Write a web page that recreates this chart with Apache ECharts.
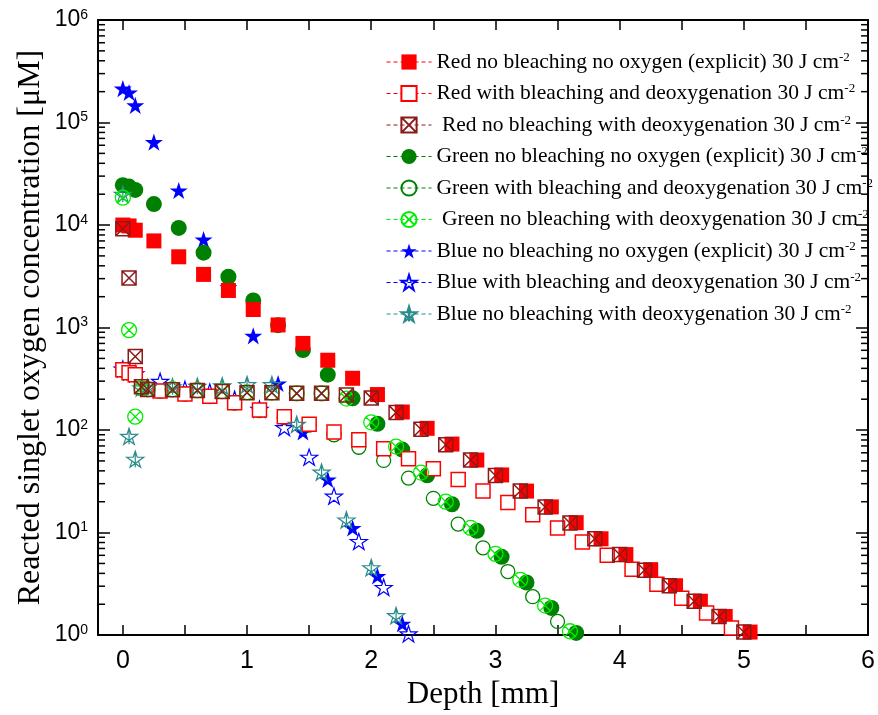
<!DOCTYPE html>
<html><head><meta charset="utf-8">
<script src="https://cdn.jsdelivr.net/npm/echarts@6/dist/echarts.min.js"></script>
<style>html,body{margin:0;padding:0;background:#fff}#c{width:878px;height:715px}</style>
</head><body><div id="c"></div>
<script>
// ---- data (depth in mm, concentration in µM) ----
const seriesNames = [
  'Red no bleaching no oxygen (explicit) 30 J cm',
  'Red with bleaching and deoxygenation 30 J cm',
  'Red no bleaching with deoxygenation 30 J cm',
  'Green no bleaching no oxygen (explicit) 30 J cm',
  'Green with bleaching and deoxygenation 30 J cm',
  'Green no bleaching with deoxygenation 30 J cm',
  'Blue no bleaching no oxygen (explicit) 30 J cm',
  'Blue with bleaching and deoxygenation 30 J cm',
  'Blue no bleaching with deoxygenation 30 J cm'
];
const redFilledX = [0,0.05,0.1,0.25,0.45,0.65,0.85,1.05,1.25,1.45,1.65,1.85,2.05,2.25,2.45,2.65,2.85,3.05,3.25,3.45,3.65,3.85,4.05,4.25,4.45,4.65,4.85,5.05];
const redFilledY = [10000,9800,8900,7000,4900,3300,2300,1500,1060,700,480,320,222,150,104,73,51,36.5,25.4,17.8,12.5,8.7,6.1,4.35,3.03,2.14,1.52,1.07];
const redOpenX = [0,0.05,0.1,0.3,0.5,0.7,0.9,1.1,1.3,1.5,1.7,1.9,2.1,2.3,2.5,2.7,2.9,3.1,3.3,3.5,3.7,3.9,4.1,4.3,4.5,4.7,4.9];
const redOpenY = [388,362,347,240,225,214,185,157,135,114,96,80.5,65.6,52.5,42,32.9,25.5,19.6,14.9,11.1,8.1,6.0,4.38,3.14,2.29,1.64,1.17];
const redCrossX = [0,0.05,0.1,0.15,0.2,0.4,0.6,0.8,1.0,1.2,1.4,1.6,1.8,2.0,2.2,2.4,2.6,2.8,3.0,3.2,3.4,3.6,3.8,4.0,4.2,4.4,4.6,4.8,5.0];
const redCrossY = [9200,3040,521,265,249,247,243,238,231,231,228,228,220,206,148,102,72,51,36,25.4,17.8,12.4,8.7,6.1,4.3,3.03,2.14,1.52,1.07];
const greenFilledX = [0,0.05,0.1,0.25,0.45,0.65,0.85,1.05,1.25,1.45,1.65,1.85,2.05,2.25,2.45,2.65,2.85,3.05,3.25,3.45,3.65];
const greenFilledY = [24500,23700,22000,16000,9380,5380,3130,1840,1055,603,347,204,115,64.5,36.2,18.9,10.4,5.8,3.26,1.84,1.05];
const greenOpenX = [0,0.05,0.1,0.3,0.5,0.7,0.9,1.1,1.3,1.5,1.7,1.9,2.1,2.3,2.5,2.7,2.9,3.1,3.3,3.5];
const greenOpenY = [385,360,345,238,224,212,183,155,132,112,90,68,50.6,34,21.6,12.1,7.1,4.17,2.37,1.36];
const greenCrossX = [0,0.05,0.1,0.15,0.2,0.4,0.6,0.8,1.0,1.2,1.4,1.6,1.8,2.0,2.2,2.4,2.6,2.8,3.0,3.2,3.4,3.6];
const greenCrossY = [18500,944,135,255,250,250,245,240,235,232,228,228,203,119,69,38.5,20,11.1,6.2,3.46,1.94,1.09];
const blueFilledX = [0,0.05,0.1,0.25,0.45,0.65,0.85,1.05,1.25,1.45,1.65,1.85,2.05,2.25];
const blueFilledY = [214000,196000,147000,64400,21700,7230,2470,830,285,96,32.9,11.1,3.78,1.29];
const blueOpenX = [0,0.05,0.1,0.3,0.5,0.7,0.9,1.1,1.3,1.5,1.7,1.9,2.1,2.3];
const blueOpenY = [395,370,355,299,250,235,200,160,106,54.4,22.7,8.2,2.92,1.03];
const tealX = [0,0.05,0.1,0.15,0.2,0.4,0.6,0.8,1.0,1.2,1.4,1.6,1.8,2.0,2.2];
const tealY = [20000,87,52,258,262,265,268,270,278,278,114,39,13.3,4.55,1.55];

const xTickLabels = [0,1,2,3,4,5,6];
const xTickValues = [0,0.5,1,1.5,2,2.5,3,3.5,4,4.5,5,5.5,6];
const X_MIN = -0.2, X_MAX = 6, Y_MIN = 1, Y_MAX = 1e6;

// minor log ticks (2..9 × 10^k)
const yMinorTicks = [];
for (let k = 0; k < 6; k++) for (let m = 2; m <= 9; m++) yMinorTicks.push(m * Math.pow(10, k));

// ---- symbols ----
const STAR = 'M10,0L12.25,6.91L19.51,6.91L13.63,11.18L15.88,18.09L10,13.82L4.12,18.09L6.37,11.18L0.49,6.91L7.75,6.91Z';
const SYM = {
  star: 'path://' + STAR,
  asterStar: 'path://' + STAR + 'M10,0L10,18.09M0.49,6.91L15.88,18.09M19.51,6.91L4.12,18.09',
  xSquare: 'path://M0,0L10,0L10,10L0,10ZM0,0L10,10M10,0L0,10',
  xCircle: 'path://M0,5A5,5,0,1,1,10,5A5,5,0,1,1,0,5ZM1.46,1.46L8.54,8.54M8.54,1.46L1.46,8.54'
};
const C = { red:'#FF0000', dred:'#8B1A1A', green:'#008000', lime:'#00EE00', blue:'#0000FF', teal:'#2A8C8C' };

function mk(i, xs, ys, symbol, size, itemStyle, color, z) {
  return {
    type: 'line', name: seriesNames[i],
    data: xs.map((x, j) => [x, ys[j]]),
    symbol: symbol, symbolSize: size, symbolKeepAspect: true,
    showSymbol: true, showAllSymbol: true,
    lineStyle: { width: 0, color: color },
    itemStyle: itemStyle, z: z, emphasis: { disabled: true }, silent: true
  };
}
const none = 'rgba(0,0,0,0)';
const series = [
  mk(0, redFilledX, redFilledY, 'rect', 15, { color: C.red }, C.red, 6),
  mk(1, redOpenX, redOpenY, 'rect', 14, { color: '#fff', borderColor: C.red, borderWidth: 1.5 }, C.red, 7),
  mk(2, redCrossX, redCrossY, SYM.xSquare, 14, { color: none, borderColor: C.dred, borderWidth: 1.5 }, C.dred, 9),
  mk(3, greenFilledX, greenFilledY, 'circle', 16, { color: C.green }, C.green, 4),
  mk(4, greenOpenX, greenOpenY, 'circle', 14, { color: none, borderColor: C.green, borderWidth: 1.3 }, C.green, 5),
  mk(5, greenCrossX, greenCrossY, SYM.xCircle, 15, { color: none, borderColor: C.lime, borderWidth: 1.3 }, C.lime, 8),
  mk(6, blueFilledX, blueFilledY, SYM.star, 18, { color: C.blue }, C.blue, 3),
  mk(7, blueOpenX, blueOpenY, SYM.star, 17, { color: none, borderColor: C.blue, borderWidth: 1.2 }, C.blue, 5),
  mk(8, tealX, tealY, SYM.asterStar, 17, { color: none, borderColor: C.teal, borderWidth: 1.2 }, C.teal, 7)
];
// minor ticks on the log axes (left and right), placed through the axis scale
series.push({
  type: 'custom', silent: true, clip: false, z: 20,
  data: yMinorTicks.map(v => [X_MIN, v]),
  renderItem: function (params, api) {
    const v = api.value(1);
    const pl = api.coord([X_MIN, v]);
    const pr = api.coord([X_MAX, v]);
    return { type: 'group', children: [
      { type: 'line', shape: { x1: pl[0], y1: pl[1], x2: pl[0] + 7, y2: pl[1] }, style: { stroke: '#000', lineWidth: 1.5 } },
      { type: 'line', shape: { x1: pr[0], y1: pr[1], x2: pr[0] - 7, y2: pr[1] }, style: { stroke: '#000', lineWidth: 1.5 } }
    ]};
  }
});

const chart = echarts.init(document.getElementById('c'), null, { renderer: 'canvas' });
const axisLine = { show: true, onZero: false, lineStyle: { color: '#000', width: 2 } };
const supFmt = v => '{b|10}{s|' + Math.round(Math.log10(v)) + '}';
chart.setOption({
  animation: false,
  backgroundColor: '#fff',
  grid: { left: 98, right: 8, top: 20, bottom: 73.5, containLabel: false },
  legend: {
    data: seriesNames, left: 386, top: 51, orient: 'vertical', padding: 0,
    itemWidth: 45, itemHeight: 19, itemGap: 9.5, selectedMode: false,
    lineStyle: { width: 1, type: [4, 3] },
    formatter: function (name) {
      const pad = (name.indexOf('no bleaching with') >= 0 && name.indexOf('Blue') < 0) ? ' ' : '';
      return '{t|' + pad + name + '}{s|-2}';
    },
    textStyle: { rich: {
      t: { fontFamily: 'Liberation Serif', fontSize: 21.5, lineHeight: 22, color: '#000' },
      s: { fontFamily: 'Liberation Serif', fontSize: 13, verticalAlign: 'top', lineHeight: 12, color: '#000' }
    } }
  },
  xAxis: [{
    type: 'value', min: X_MIN, max: X_MAX, position: 'bottom',
    axisLine: axisLine, splitLine: { show: false },
    axisTick: { inside: true, length: 10, customValues: xTickValues, lineStyle: { color: '#000', width: 1.5 } },
    axisLabel: { customValues: xTickLabels, margin: 14, fontFamily: 'Liberation Sans Narrow, Liberation Sans', fontSize: 25, color: '#000' },
    name: 'Depth [mm]', nameLocation: 'middle', nameGap: 37,
    nameTextStyle: { fontFamily: 'Liberation Serif', fontSize: 31, color: '#000' }
  }, {
    type: 'value', min: X_MIN, max: X_MAX, position: 'top',
    axisLine: axisLine, splitLine: { show: false },
    axisTick: { inside: true, length: 10, customValues: xTickValues, lineStyle: { color: '#000', width: 1.5 } },
    axisLabel: { show: false }
  }],
  yAxis: [{
    type: 'log', logBase: 10, min: Y_MIN, max: Y_MAX, position: 'left',
    axisLine: axisLine, splitLine: { show: false }, minorTick: { show: false },
    axisTick: { inside: true, length: 12, lineStyle: { color: '#000', width: 1.5 } },
    axisLabel: { margin: 10, formatter: supFmt, rich: {
      b: { fontFamily: 'Liberation Sans', fontSize: 23, color: '#000', lineHeight: 24 },
      s: { fontFamily: 'Liberation Sans', fontSize: 14, color: '#000', verticalAlign: 'top', lineHeight: 14 }
    } },
    name: 'Reacted singlet oxygen concentration [\u03BCM]', nameLocation: 'middle', nameGap: 51,
    nameMoveOverlap: false,
    nameTextStyle: { fontFamily: 'Liberation Serif', fontSize: 32, color: '#000' }
  }, {
    type: 'log', logBase: 10, min: Y_MIN, max: Y_MAX, position: 'right',
    axisLine: axisLine, splitLine: { show: false },
    axisTick: { inside: true, length: 12, lineStyle: { color: '#000', width: 1.5 } },
    axisLabel: { show: false }
  }],
  series: series
});
</script></body></html>
